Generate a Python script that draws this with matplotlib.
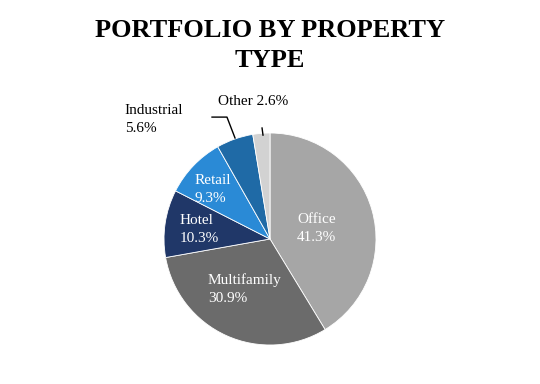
import matplotlib.pyplot as plt

labels = ["Office", "Multifamily", "Hotel", "Retail", "Industrial", "Other"]
shares = [41.3, 30.9, 10.3, 9.3, 5.6, 2.6]
colors = ["#a6a6a6", "#6b6b6b", "#203768", "#2a8ad6", "#1f6aa6", "#d2d2d2"]

plt.rcParams["font.family"] = "Liberation Serif"

fig = plt.figure(figsize=(5.4, 3.84), dpi=100)
fig.text(0.5, 0.882, "PORTFOLIO BY PROPERTY\nTYPE", ha="center", va="center",
         fontsize=19, fontweight="bold", linespacing=1.4)

# pie axes: centre (270, 239) px, radius 106 px
ax = fig.add_axes([164 / 540, 39 / 384, 212 / 540, 212 / 384])
ax.pie(shares, colors=colors, startangle=90, counterclock=False, radius=1,
       wedgeprops=dict(edgecolor="white", linewidth=0.6))
ax.set_xlim(-1, 1)
ax.set_ylim(-1, 1)
ax.set_aspect("equal")
ax.axis("off")

inside = {
    "Office": (0.255, 0.10),
    "Multifamily": (-0.585, -0.47),
    "Hotel": (-0.85, 0.085),
    "Retail": (-0.71, 0.47),
}
for lab, val in zip(labels, shares):
    if lab in inside:
        x, y = inside[lab]
        ax.text(x, y, f"{lab}\n{val}%", color="white", ha="left", va="center",
                fontsize=11, linespacing=1.5)

ax.text(-1.37, 1.13, f"Industrial\n{shares[4]}%", ha="left", va="center",
        fontsize=11, linespacing=1.5, clip_on=False)
ax.plot([-0.547, -0.406, -0.33], [1.15, 1.15, 0.953], color="black", lw=1, clip_on=False)
ax.text(-0.49, 1.30, f"Other {shares[5]}%", ha="left", va="center",
        fontsize=11, clip_on=False)
ax.plot([-0.075, -0.066], [1.047, 0.98], color="black", lw=1, clip_on=False)

fig.savefig("out.png", dpi=100)
